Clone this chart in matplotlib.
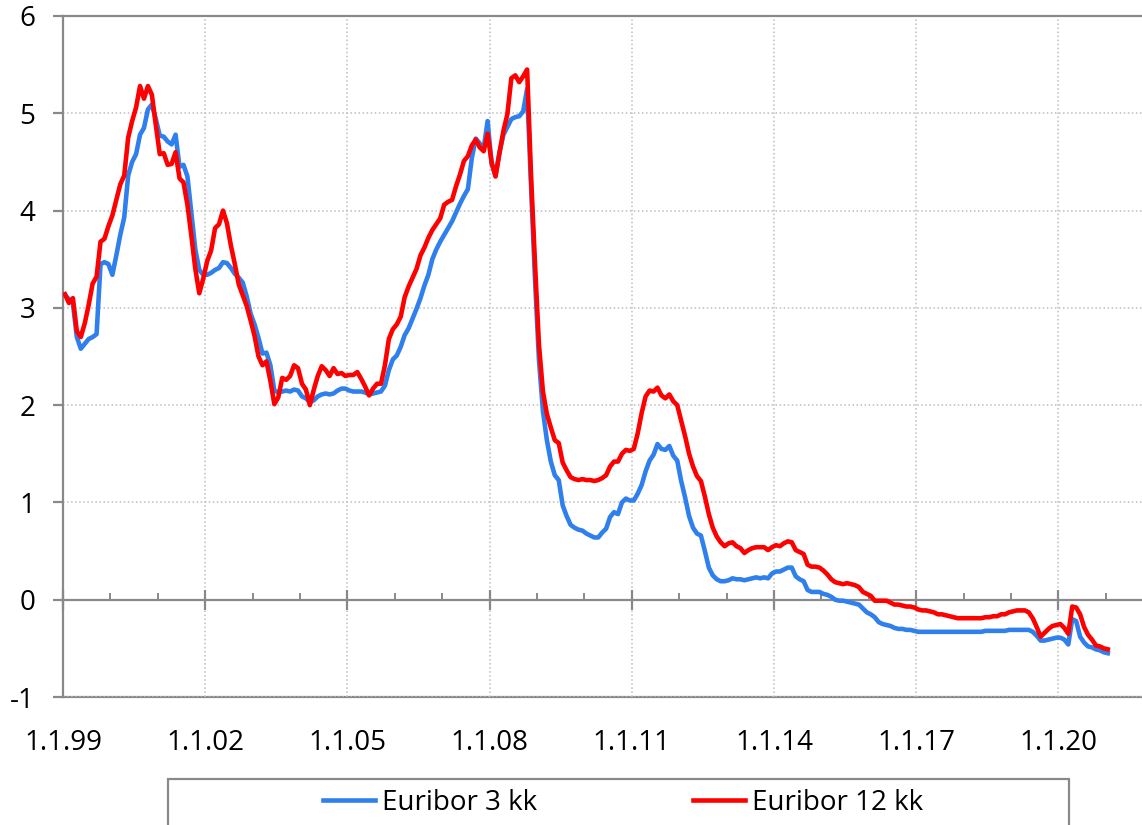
import numpy as np
import matplotlib.pyplot as plt
from matplotlib.patches import Rectangle
from matplotlib.ticker import FixedLocator, MultipleLocator

plt.rcParams['font.family'] = ['Open Sans', 'DejaVu Sans']
plt.rcParams['axes.unicode_minus'] = False

# monthly values, Jan 1999 .. Jan 2021 (%)
eur3 = [
    3.13, 3.09, 3.05, 2.70, 2.58, 2.63, 2.68, 2.70, 2.73, 3.45, 3.47, 3.45,   # 1999
    3.34, 3.54, 3.75, 3.93, 4.36, 4.50, 4.58, 4.78, 4.85, 5.04, 5.09, 4.94,   # 2000
    4.77, 4.76, 4.71, 4.68, 4.78, 4.45, 4.47, 4.35, 3.98, 3.60, 3.39, 3.34,   # 2001
    3.34, 3.36, 3.39, 3.41, 3.47, 3.46, 3.41, 3.35, 3.31, 3.26, 3.12, 2.94,   # 2002
    2.83, 2.69, 2.53, 2.54, 2.41, 2.15, 2.13, 2.14, 2.15, 2.14, 2.16, 2.15,   # 2003
    2.09, 2.07, 2.03, 2.05, 2.09, 2.11, 2.12, 2.11, 2.12, 2.15, 2.17, 2.17,   # 2004
    2.15, 2.14, 2.14, 2.14, 2.13, 2.11, 2.12, 2.13, 2.14, 2.20, 2.36, 2.47,   # 2005
    2.51, 2.60, 2.72, 2.79, 2.89, 2.99, 3.10, 3.23, 3.34, 3.50, 3.60, 3.68,   # 2006
    3.75, 3.82, 3.89, 3.98, 4.07, 4.15, 4.22, 4.54, 4.74, 4.69, 4.64, 4.92,   # 2007
    4.48, 4.36, 4.60, 4.78, 4.86, 4.94, 4.96, 4.97, 5.02, 5.25, 4.24, 3.29,   # 2008
    2.46, 1.94, 1.64, 1.42, 1.28, 1.23, 0.97, 0.86, 0.77, 0.74, 0.72, 0.71,   # 2009
    0.68, 0.66, 0.64, 0.64, 0.69, 0.73, 0.85, 0.90, 0.88, 1.00, 1.04, 1.02,   # 2010
    1.02, 1.09, 1.18, 1.32, 1.43, 1.49, 1.60, 1.55, 1.54, 1.58, 1.48, 1.43,   # 2011
    1.22, 1.05, 0.86, 0.74, 0.68, 0.66, 0.50, 0.33, 0.25, 0.21, 0.19, 0.19,   # 2012
    0.20, 0.22, 0.21, 0.21, 0.20, 0.21, 0.22, 0.23, 0.22, 0.23, 0.22, 0.27,   # 2013
    0.29, 0.29, 0.31, 0.33, 0.33, 0.24, 0.21, 0.19, 0.10, 0.08, 0.08, 0.08,   # 2014
    0.06, 0.05, 0.03, 0.00, -0.01, -0.01, -0.02, -0.03, -0.04, -0.05, -0.09, -0.13,   # 2015
    -0.15, -0.18, -0.23, -0.25, -0.26, -0.27, -0.29, -0.30, -0.30, -0.31, -0.31, -0.32,   # 2016
    -0.33, -0.33, -0.33, -0.33, -0.33, -0.33, -0.33, -0.33, -0.33, -0.33, -0.33, -0.33,   # 2017
    -0.33, -0.33, -0.33, -0.33, -0.33, -0.32, -0.32, -0.32, -0.32, -0.32, -0.32, -0.31,   # 2018
    -0.31, -0.31, -0.31, -0.31, -0.31, -0.33, -0.37, -0.42, -0.42, -0.41, -0.40, -0.39,   # 2019
    -0.39, -0.41, -0.46, -0.20, -0.22, -0.38, -0.44, -0.48, -0.49, -0.51, -0.52, -0.54,   # 2020
    -0.55,                                                                     # 2021
]

eur12 = [
    3.14, 3.05, 3.10, 2.76, 2.70, 2.84, 3.03, 3.25, 3.32, 3.68, 3.71, 3.84,   # 1999
    3.95, 4.11, 4.27, 4.36, 4.75, 4.92, 5.06, 5.28, 5.15, 5.28, 5.19, 4.88,   # 2000
    4.58, 4.59, 4.47, 4.48, 4.60, 4.33, 4.29, 4.06, 3.74, 3.40, 3.15, 3.30,   # 2001
    3.48, 3.59, 3.82, 3.86, 4.00, 3.87, 3.64, 3.45, 3.24, 3.13, 3.02, 2.87,   # 2002
    2.71, 2.50, 2.41, 2.45, 2.25, 2.01, 2.08, 2.28, 2.26, 2.30, 2.41, 2.38,   # 2003
    2.22, 2.16, 2.00, 2.16, 2.30, 2.40, 2.36, 2.30, 2.38, 2.32, 2.33, 2.30,   # 2004
    2.31, 2.31, 2.34, 2.27, 2.19, 2.10, 2.17, 2.22, 2.22, 2.41, 2.68, 2.78,   # 2005
    2.83, 2.91, 3.11, 3.22, 3.31, 3.40, 3.54, 3.62, 3.72, 3.80, 3.86, 3.92,   # 2006
    4.06, 4.09, 4.11, 4.25, 4.37, 4.51, 4.56, 4.67, 4.73, 4.65, 4.61, 4.79,   # 2007
    4.50, 4.35, 4.59, 4.82, 4.99, 5.36, 5.39, 5.32, 5.38, 5.45, 4.35, 3.45,   # 2008
    2.62, 2.14, 1.91, 1.77, 1.64, 1.61, 1.41, 1.33, 1.26, 1.24, 1.23, 1.24,   # 2009
    1.23, 1.23, 1.22, 1.23, 1.25, 1.28, 1.37, 1.42, 1.42, 1.50, 1.54, 1.53,   # 2010
    1.55, 1.71, 1.92, 2.09, 2.15, 2.14, 2.18, 2.10, 2.07, 2.11, 2.04, 2.00,   # 2011
    1.84, 1.68, 1.50, 1.37, 1.27, 1.22, 1.06, 0.88, 0.74, 0.65, 0.59, 0.55,   # 2012
    0.58, 0.59, 0.55, 0.53, 0.48, 0.51, 0.53, 0.54, 0.54, 0.54, 0.51, 0.54,   # 2013
    0.56, 0.55, 0.58, 0.60, 0.59, 0.51, 0.49, 0.47, 0.36, 0.34, 0.34, 0.33,   # 2014
    0.30, 0.26, 0.21, 0.18, 0.17, 0.16, 0.17, 0.16, 0.15, 0.13, 0.08, 0.06,   # 2015
    0.04, -0.01, -0.01, -0.01, -0.01, -0.03, -0.05, -0.05, -0.06, -0.07, -0.07, -0.08,   # 2016
    -0.10, -0.11, -0.11, -0.12, -0.13, -0.15, -0.15, -0.16, -0.17, -0.18, -0.19, -0.19,   # 2017
    -0.19, -0.19, -0.19, -0.19, -0.19, -0.18, -0.18, -0.17, -0.17, -0.15, -0.15, -0.13,   # 2018
    -0.12, -0.11, -0.11, -0.11, -0.13, -0.19, -0.28, -0.38, -0.34, -0.30, -0.27, -0.26,   # 2019
    -0.25, -0.29, -0.35, -0.07, -0.08, -0.15, -0.28, -0.36, -0.41, -0.47, -0.48, -0.50,   # 2020
    -0.51,                                                                     # 2021
]

start_year = 1999
tick_years = [1999, 2002, 2005, 2008, 2011, 2014, 2017, 2020]
tick_labels = ['1.1.99', '1.1.02', '1.1.05', '1.1.08', '1.1.11', '1.1.14', '1.1.17', '1.1.20']
names = ['Euribor 3 kk', 'Euribor 12 kk']

# mid-month position as decimal year
t = start_year + (np.arange(len(eur3)) + 0.5) / 12.

W, H = 1142, 825
fig = plt.figure(figsize=(W/100, H/100), dpi=100)
ax = fig.add_axes([63/W, 1-697/H, 1-63/W, (697-16)/H])

axcol = '#898989'
l1, = ax.plot(t, eur3, color='#2F80ED', lw=3.3, solid_joinstyle='round', zorder=3)
l2, = ax.plot(t, eur12, color='#FF0000', lw=3.3, solid_joinstyle='round', zorder=4)

ax.set_xlim(1999, 1999 + 1079/47.4)
ax.set_ylim(-1, 6)

# x axis line crosses at zero
ax.spines['bottom'].set_position(('data', 0))
ax.spines['right'].set_visible(False)
for s in ['bottom', 'left', 'top']:
    ax.spines[s].set_color(axcol)
    ax.spines[s].set_linewidth(1.6)

ax.xaxis.set_major_locator(FixedLocator(tick_years))
ax.xaxis.set_minor_locator(MultipleLocator(1))
ax.tick_params(axis='x', which='major', direction='inout', length=14, width=1.6,
               color=axcol, labelbottom=False)
ax.tick_params(axis='x', which='minor', direction='in', length=5, width=1.4, color=axcol)

ax.set_yticks(range(-1, 7))
ax.tick_params(axis='y', direction='out', length=7, width=1.6, color=axcol,
               pad=13, labelsize=20)

ax.grid(True, color='#bdbdbd', linestyle=':', linewidth=1.1)
ax.set_axisbelow(True)

# bottom border with the date labels
sec = ax.secondary_xaxis(0.0)
sec.spines['bottom'].set_color(axcol)
sec.spines['bottom'].set_linewidth(1.6)
sec.set_xticks(tick_years)
sec.set_xticklabels(tick_labels)
sec.tick_params(length=0, pad=23, labelsize=20)

# legend, box runs off the bottom edge
fig.patches.append(Rectangle((168/W, -0.05), (1069-168)/W, 0.05 + 1-779/H,
                             transform=fig.transFigure, fill=False,
                             edgecolor=axcol, linewidth=1.6))
fig.legend([l1, l2], names, ncol=2, loc='center', bbox_to_anchor=(623/W, 1-803/H),
           frameon=False, fontsize=20, handlelength=1.87, handletextpad=0.25,
           columnspacing=5.6)

fig.savefig('out.png', dpi=100)
